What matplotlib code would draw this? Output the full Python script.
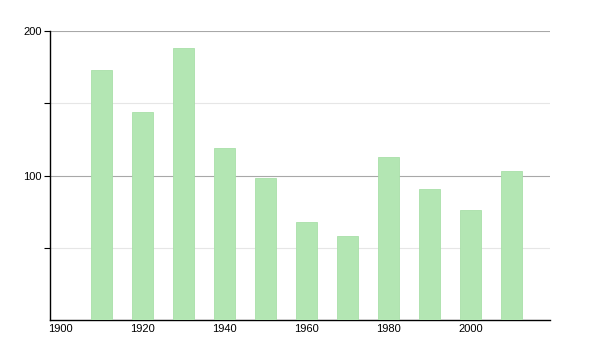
import matplotlib.pyplot as plt

plt.rcParams['font.family'] = ['Liberation Sans', 'DejaVu Sans']

years = [1910, 1920, 1930, 1940, 1950, 1960, 1970, 1980, 1990, 2000, 2010]
population = [173, 144, 188, 119, 98, 68, 58, 113, 91, 76, 103]
xticks = [1900, 1920, 1940, 1960, 1980, 2000]

fig = plt.figure(figsize=(6, 3.5), dpi=100)
ax = fig.add_axes([50 / 600, 30 / 350, 500 / 600, 289 / 350])

ax.bar(years, population, width=5.1, color='#b3e6b3', edgecolor='#a9dfa9', linewidth=0.6, zorder=3)

ax.set_xlim(1897.4, 2019.4)
ax.set_ylim(0, 200)

ax.set_yticks([100, 200])
ax.set_yticks([50, 150], minor=True)
for y in [100, 200]:
    ax.axhline(y, color='#a8a8a8', linewidth=0.8, zorder=1)
for y in [50, 150]:
    ax.axhline(y, color='#e6e6e6', linewidth=0.8, zorder=1)

ax.set_xticks(xticks)
ax.set_xticklabels([str(x) for x in xticks])
ax.tick_params(axis='x', length=0, pad=3, labelsize=8)
ax.tick_params(axis='y', which='both', length=4, width=0.8, labelsize=8, pad=2)
ax.tick_params(axis='y', which='minor', labelleft=False)

for side in ['top', 'right']:
    ax.spines[side].set_visible(False)
ax.spines['left'].set_linewidth(1.0)
ax.spines['bottom'].set_linewidth(1.0)

fig.savefig('out.png', dpi=100)
